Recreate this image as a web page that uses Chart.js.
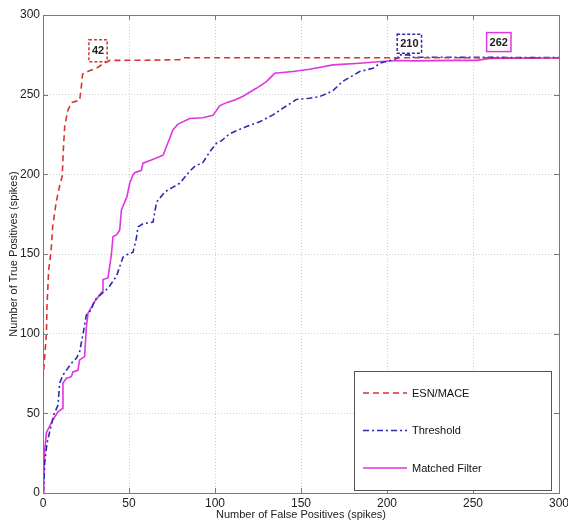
<!DOCTYPE html>
<html>
<head>
<meta charset="utf-8">
<script src="https://cdn.jsdelivr.net/npm/chart.js@4.4.1/dist/chart.umd.min.js"></script>
<style>
  html, body { margin: 0; padding: 0; background: #fff; }
  #wrap { width: 568px; height: 522px; }
</style>
</head>
<body>
<div id="wrap"><canvas id="roc" width="568" height="522"></canvas></div>
<script>
// valeurs (faux positifs -> vrais positifs)
const esnX = [0, 1, 2, 2.3, 3.3, 4.7, 5.6, 7.6, 9.5, 11.2, 11.8, 12.6, 14.4, 16.5, 21.3, 22.3, 23, 27, 31, 35, 38.8, 60, 79.5, 82.4, 300];
const esnY = [71, 86, 100, 117, 140, 152, 167, 182, 192, 199, 215, 230, 240, 245, 246.5, 255, 263, 265, 266.5, 269.5, 271.5, 271.6, 272, 273.2, 273.2];

const thrX = [0, 0.4, 1, 2.3, 3.9, 6.2, 8.7, 9.7, 11.6, 16.5, 19.4, 21.3, 23.3, 25.2, 28.1, 30, 34, 37.8, 42.7, 44.6, 46.5, 50.4, 52.3, 54.3, 55.2, 58.1, 64, 66, 70.8, 75.6, 79.5, 85.3, 88.2, 93, 96.9, 100.8, 103.7, 108.5, 118.3, 126, 133.7, 139.5, 147.3, 155, 160.9, 168.6, 174, 180.2, 184.1, 191.9, 195.8, 201.6, 206.4, 206.6, 213, 214, 300];
const thrY = [0, 3, 19, 31, 38.5, 49, 55, 69, 74, 81.4, 84.5, 88.7, 100, 111.7, 115, 121, 125, 128.5, 136, 142, 148, 150.5, 151, 160, 167, 169, 170, 182.5, 189, 192, 194.4, 202, 205, 207.5, 214, 219.5, 221, 225.5, 230, 233, 237.3, 241.5, 247, 247.8, 248.8, 252.5, 258.2, 262, 264.5, 266.6, 269.7, 271.4, 272.9, 275, 275, 273.5, 273.3];

const mfX = [0, 0.5, 1, 2, 5.8, 8.7, 11.3, 11.6, 13.6, 16.5, 17.4, 20.3, 21.3, 24.2, 25.2, 26.2, 30, 32, 34.9, 34.9, 37.8, 39.8, 40.7, 42.7, 44.6, 45.6, 48.8, 50.4, 52.3, 53.3, 57.2, 58.1, 63, 69.8, 72.7, 75.6, 78.5, 85.3, 93, 98.8, 102.7, 106.6, 111.5, 116.3, 124, 129.9, 134.7, 145.3, 155, 168.6, 184.1, 196.7, 207.4, 215, 240, 252, 260, 300];
const mfY = [0, 10, 27, 38, 46, 51, 53, 69, 72, 73, 76, 77, 83.5, 85.6, 104, 113, 120, 123, 127, 134, 135, 150, 161, 162, 165, 177.7, 186, 194.4, 199.6, 201, 202.5, 207, 209, 212, 220, 228, 231.5, 235, 235.5, 237, 243, 245, 246.7, 249, 254, 258.2, 263.4, 264.5, 266, 268.7, 269.7, 270.8, 271.4, 271.2, 271.5, 271.5, 272.8, 273];

const seriesNames = ['ESN/MACE', 'Threshold', 'Matched Filter'];

const xTicks = [0, 50, 100, 150, 200, 250, 300];
const yTicks = [0, 50, 100, 150, 200, 250, 300];

// petites étiquettes encadrées sur le plateau
const noteLabels = ['42', '210', '262'];
const noteX = [32, 213, 265];
const noteY = [277.5, 282, 283];

const toPoints = (xs, ys) => xs.map((x, i) => ({ x, y: ys[i] }));

const noteColors = ['#d8352f', '#2b2bb0', '#e035e0'];
const noteDash = [[3, 2], [3, 2], []];

const frame = {
  id: 'frame',
  afterDatasetsDraw(chart) {
    const { ctx, chartArea: a, scales } = chart;
    ctx.save();
    ctx.strokeStyle = '#7a7a7a';
    ctx.lineWidth = 1;
    ctx.strokeRect(a.left + 0.5, a.top + 0.5, a.right - a.left, a.bottom - a.top);
    // petits traits vers l'intérieur, façon matlab
    ctx.beginPath();
    xTicks.forEach(v => {
      const px = Math.round(scales.x.getPixelForValue(v)) + 0.5;
      ctx.moveTo(px, a.bottom); ctx.lineTo(px, a.bottom - 5);
      ctx.moveTo(px, a.top); ctx.lineTo(px, a.top + 5);
    });
    yTicks.forEach(v => {
      const py = Math.round(scales.y.getPixelForValue(v)) + 0.5;
      ctx.moveTo(a.left, py); ctx.lineTo(a.left + 5, py);
      ctx.moveTo(a.right, py); ctx.lineTo(a.right - 5, py);
    });
    ctx.stroke();

    // boîtes des annotations
    ctx.font = 'bold 11px "Liberation Sans", Arial, sans-serif';
    ctx.textAlign = 'center';
    ctx.textBaseline = 'middle';
    noteLabels.forEach((t, i) => {
      const cx = scales.x.getPixelForValue(noteX[i]);
      const cy = scales.y.getPixelForValue(noteY[i]);
      const w = ctx.measureText(t).width + 6;
      const h = i === 0 ? 22 : 19;
      ctx.fillStyle = '#fff';
      ctx.fillRect(cx - w / 2, cy - h / 2, w, h);
      ctx.setLineDash(noteDash[i]);
      ctx.strokeStyle = noteColors[i];
      ctx.lineWidth = 1.5;
      ctx.strokeRect(cx - w / 2, cy - h / 2, w, h);
      ctx.setLineDash([]);
      ctx.fillStyle = '#222';
      ctx.fillText(t, cx, cy + 0.5);
    });

    // légende dans le coin bas droit
    const lx = a.right - 205, ly = a.bottom - 122, lw = 197, lh = 119;
    ctx.fillStyle = '#fff';
    ctx.fillRect(lx, ly, lw, lh);
    ctx.strokeStyle = '#555';
    ctx.lineWidth = 1;
    ctx.strokeRect(lx + 0.5, ly + 0.5, lw, lh);
    ctx.textAlign = 'left';
    ctx.font = '11px "Liberation Sans", Arial, sans-serif';
    chart.data.datasets.forEach((ds, i) => {
      const yy = ly + 22 + i * 37.5;
      ctx.strokeStyle = ds.borderColor;
      ctx.lineWidth = ds.borderWidth;
      ctx.setLineDash(ds.borderDash || []);
      ctx.beginPath();
      ctx.moveTo(lx + 9, yy); ctx.lineTo(lx + 53, yy);
      ctx.stroke();
      ctx.setLineDash([]);
      ctx.fillStyle = '#111';
      ctx.fillText(ds.label, lx + 58, yy + 0.5);
    });
    ctx.restore();
  }
};

new Chart(document.getElementById('roc'), {
  type: 'line',
  data: {
    datasets: [
      { label: seriesNames[0], data: toPoints(esnX, esnY), borderColor: '#d8352f', borderWidth: 1.6, borderDash: [6, 4] },
      { label: seriesNames[1], data: toPoints(thrX, thrY), borderColor: '#2b2bb0', borderWidth: 1.6, borderDash: [6, 3, 2, 3] },
      { label: seriesNames[2], data: toPoints(mfX, mfY), borderColor: '#e035e0', borderWidth: 1.6 }
    ]
  },
  options: {
    responsive: false,
    animation: false,
    devicePixelRatio: 1,
    elements: { point: { radius: 0 }, line: { tension: 0, fill: false } },
    layout: { padding: { top: 15, right: 9, left: 0, bottom: 0 } },
    plugins: { legend: { display: false }, tooltip: { enabled: false } },
    scales: {
      x: {
        type: 'linear', min: 0, max: 300,
        afterBuildTicks: s => { s.ticks = xTicks.map(v => ({ value: v })); },
        afterFit: s => { s.height = 29; s.paddingLeft = 0; s.paddingRight = 0; },
        ticks: { color: '#222', padding: 3, font: { family: '"Liberation Sans", Arial, sans-serif', size: 12 } },
        grid: { color: '#cfcfcf', drawTicks: false },
        border: { display: true, color: '#7a7a7a', dash: [1, 2] },
        title: { display: true, text: 'Number of False Positives (spikes)', color: '#222',
                 font: { family: '"Liberation Sans", Arial, sans-serif', size: 11 }, padding: { top: 0, bottom: 0 } }
      },
      y: {
        type: 'linear', min: 0, max: 300,
        afterBuildTicks: s => { s.ticks = yTicks.map(v => ({ value: v })); },
        afterFit: s => { s.width = 43; s.paddingTop = 0; s.paddingBottom = 0; },
        ticks: { color: '#222', padding: 3, font: { family: '"Liberation Sans", Arial, sans-serif', size: 12 } },
        grid: { color: '#cfcfcf', drawTicks: false },
        border: { display: true, color: '#7a7a7a', dash: [1, 2] },
        title: { display: true, text: 'Number of True Positives (spikes)', color: '#222',
                 font: { family: '"Liberation Sans", Arial, sans-serif', size: 11 }, padding: { top: 7, bottom: 0 } }
      }
    }
  },
  plugins: [frame]
});
</script>
</body>
</html>
